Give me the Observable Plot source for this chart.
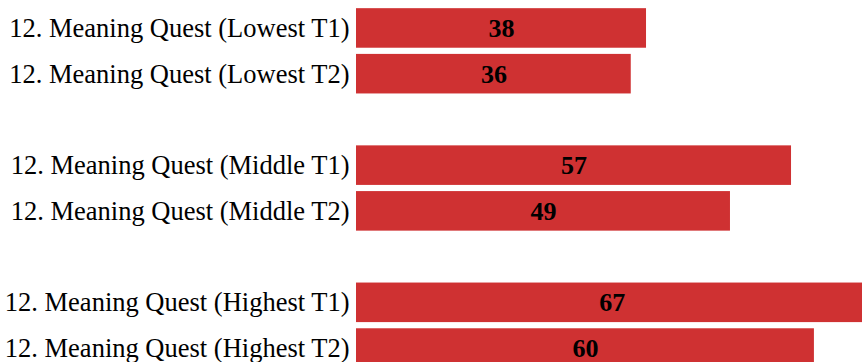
<!DOCTYPE html>
<html>
<head>
<meta charset="utf-8">
<script src="https://cdn.jsdelivr.net/npm/d3@7"></script>
<script src="https://cdn.jsdelivr.net/npm/@observablehq/plot@0.6"></script>
<style>
  html, body { margin: 0; padding: 0; background: #fff; }
  #chart svg { display: block; }
</style>
</head>
<body>
<div id="chart"></div>
<script>
// Row labels, in display order; the spacer rows separate the three groups.
const categories = [
  "12. Meaning Quest (Lowest T1)",
  "12. Meaning Quest (Lowest T2)",
  "12. Meaning Quest (Middle T1)",
  "12. Meaning Quest (Middle T2)",
  "12. Meaning Quest (Highest T1)",
  "12. Meaning Quest (Highest T2)"
];
const values = [38, 36, 57, 49, 67, 60];
const rowOrder = [
  categories[0], categories[1], "spacer-1",
  categories[2], categories[3], "spacer-2",
  categories[4], categories[5]
];

const data = categories.map((c, i) => ({category: c, value: values[i]}));

const chart = Plot.plot({
  width: 862,
  height: 362,
  marginLeft: 356,
  marginRight: 0,
  marginTop: 2,
  marginBottom: -12,
  style: {fontFamily: "'Liberation Serif', 'Times New Roman', serif", fontSize: "26.5px", color: "#000", background: "#fff"},
  x: {domain: [0, 66.3], axis: null},
  y: {domain: rowOrder, padding: 0.135, round: false, label: null},
  marks: [
    Plot.barX(data, {x: "value", y: "category", fill: "#cf3132"}),
    Plot.text(data, {
      x: d => d.value / 2,
      y: "category",
      text: d => String(d.value),
      fontWeight: "bold",
      fontSize: 26,
      fill: "#000"
    }),
    Plot.axisY({
      tickSize: 0,
      tickPadding: 7,
      fontSize: 26.5,
      tickFormat: d => d.startsWith("spacer") ? "" : d
    })
  ]
});
document.getElementById("chart").appendChild(chart);
</script>
</body>
</html>
